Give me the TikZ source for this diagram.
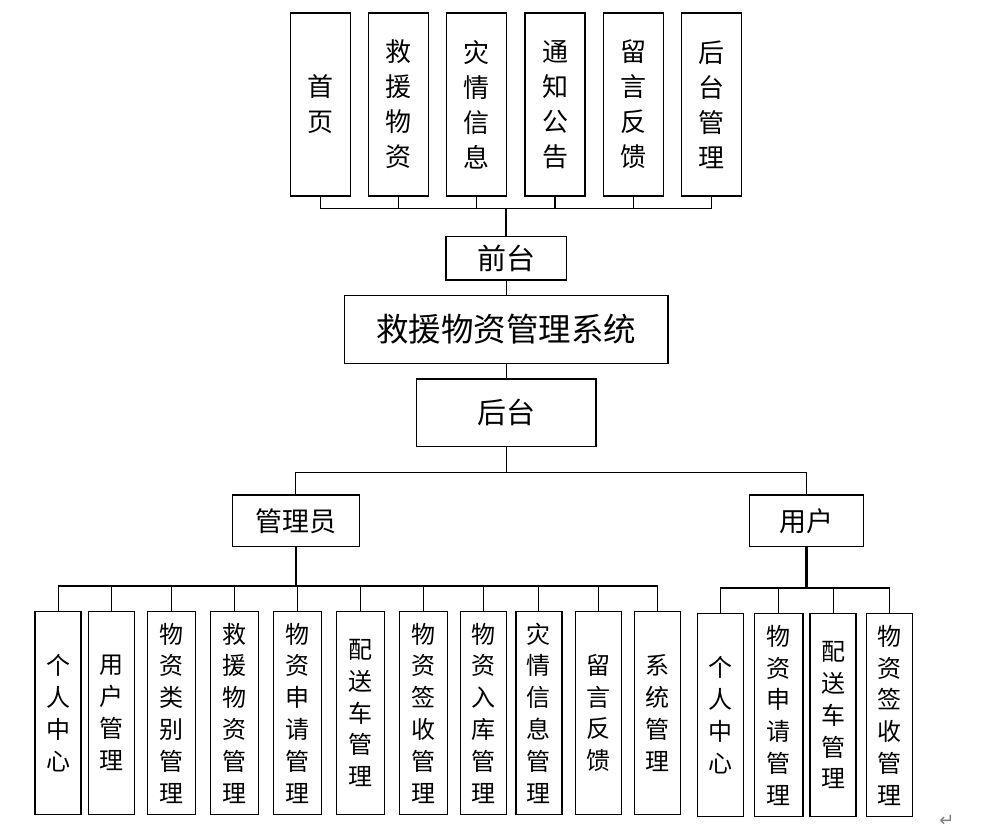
\documentclass[tikz,border=0pt]{standalone}
\usepackage{fontspec}
\newfontfamily\cjk{Noto Sans CJK SC}
\newfontfamily\symb{DejaVu Sans}
\begin{document}
\begin{tikzpicture}[x=1pt, y=-1pt,
    box/.style={draw, line width=1.5pt, inner sep=0pt, align=center, font=\cjk\fontsize{27}{32}\selectfont},
    topbox/.style={box, minimum width=60pt, minimum height=183pt, font=\cjk\fontsize{26}{35}\selectfont},
    leaf/.style={box, minimum width=46pt, minimum height=203pt, font=\cjk\fontsize{24}{31.8}\selectfont},
    wide/.style={minimum width=48.4pt},
    link/.style={line width=1.3pt},
    trunk/.style={line width=2.2pt}]
    \useasboundingbox (0,0) rectangle (992,833);

    % front end
    \node (home) [topbox] at (320.7,104.5) {首\\页};
    \node (goods) [topbox] at (398.7,104.5) {救\\援\\物\\资};
    \node (disaster) [topbox] at (476.7,104.5) {灾\\情\\信\\息};
    \node (notice) [topbox] at (555,104.5) {通\\知\\公\\告};
    \node (message) [topbox] at (633.3,104.5) {留\\言\\反\\馈};
    \node (backlink) [topbox] at (711.5,104.5) {后\\台\\管\\理};

    \node (front) [box, minimum width=120.7pt, minimum height=43.3pt, font=\cjk\fontsize{29}{34}\selectfont] at (506.3,258.3) {前台};
    \node (system) [box, minimum width=323.3pt, minimum height=67.6pt, font=\cjk\fontsize{32.5}{38}\selectfont] at (506.3,329.5) {救援物资管理系统};
    \node (back) [box, minimum width=179.3pt, minimum height=67.7pt, font=\cjk\fontsize{29}{34}\selectfont] at (506.3,412.8) {后台};

    \node (admin) [box, minimum width=127pt, minimum height=51.7pt] at (295.8,520.8) {管理员};
    \node (user) [box, minimum width=114.4pt, minimum height=51.7pt] at (806.5,520.8) {用户};

    % admin modules
    \node (profile) [leaf] at (58.2,713) {个\\人\\中\\心};
    \node (usermgr) [leaf] at (111.7,713) {用\\户\\管\\理};
    \node (category) [leaf, wide] at (171.5,713) {物\\资\\类\\别\\管\\理};
    \node (relief) [leaf, wide] at (234.5,713) {救\\援\\物\\资\\管\\理};
    \node (apply) [leaf, wide] at (297.5,713) {物\\资\\申\\请\\管\\理};
    \node (vehicle) [leaf, wide] at (360.5,713) {配\\送\\车\\管\\理};
    \node (sign) [leaf, wide] at (423.5,713) {物\\资\\签\\收\\管\\理};
    \node (stock) [leaf] at (483.3,713) {物\\资\\入\\库\\管\\理};
    \node (disastermgr) [leaf] at (538.8,713) {灾\\情\\信\\息\\管\\理};
    \node (feedback) [leaf] at (598.3,713) {留\\言\\反\\馈};
    \node (sysmgr) [leaf] at (657.3,713) {系\\统\\管\\理};

    % user modules
    \node (uprofile) [leaf] at (720.3,715.2) {个\\人\\中\\心};
    \node (uapply) [leaf, wide] at (778.7,715.2) {物\\资\\申\\请\\管\\理};
    \node (uvehicle) [leaf] at (833.2,715.2) {配\\送\\车\\管\\理};
    \node (usign) [leaf] at (889.7,715.2) {物\\资\\签\\收\\管\\理};

    \node (ret) [font=\symb\fontsize{18}{18}\selectfont, text=gray] at (947,821) {↵};

    % connectors
    \coordinate (fbus) at (506.3,208.7);
    \foreach \n in {home,goods,disaster,notice,message,backlink}
        \draw [link] (\n.south) |- (fbus);
    \draw [trunk] (fbus) -- (front.north);
    \draw [link] (front) -- (system);
    \draw [link] (system) -- (back);

    \coordinate (bbus) at (506.3,472.3);
    \draw [link] (back.south) -- (bbus);
    \draw [link] (bbus) -| (admin.north);
    \draw [link] (bbus) -| (user.north);

    \coordinate (abus) at (295.8,586);
    \draw [trunk] (admin.south) -- (abus);
    \draw [trunk] (profile.north |- abus) -- (sysmgr.north |- abus);
    \foreach \n in {profile,usermgr,category,relief,apply,vehicle,sign,stock,disastermgr,feedback,sysmgr}
        \draw [link] (\n.north) |- (abus);

    \coordinate (ubus) at (806.5,587.7);
    \draw [trunk] (user.south) -- (ubus);
    \draw [trunk] (uprofile.north |- ubus) -- (usign.north |- ubus);
    \foreach \n in {uprofile,uapply,uvehicle,usign}
        \draw [link] (\n.north) |- (ubus);

\end{tikzpicture}
\end{document}
